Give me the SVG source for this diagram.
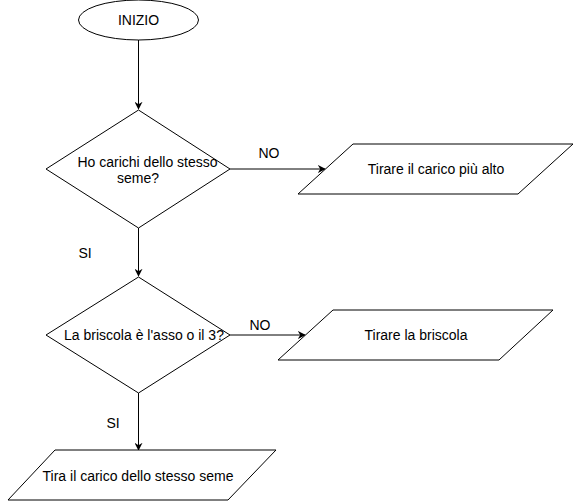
<svg xmlns="http://www.w3.org/2000/svg" width="574" height="501" viewBox="0 0 574 501">
<defs>
<marker id="arr" viewBox="0 0 10 10" refX="9" refY="5" markerWidth="8" markerHeight="8" markerUnits="userSpaceOnUse" orient="auto">
<path d="M0,0 L10,5 L0,10 L3,5 Z" fill="#000"/>
</marker>
<style>
.shape{fill:#fff;stroke:#000;stroke-width:1}
.t{font-family:"Liberation Sans",Arial,sans-serif;font-size:14px;fill:#000;text-anchor:middle;dominant-baseline:central}
.c{fill:none;stroke:#000;stroke-width:1;marker-end:url(#arr)}
</style>
</defs>
<rect width="574" height="501" fill="#fff"/>
<g id="connectors">
<path class="c" d="M138.5,40 V109"/>
<path class="c" d="M230,169 H325"/>
<path class="c" d="M138.5,228 V276"/>
<path class="c" d="M230,335 H305"/>
<path class="c" d="M138.5,393 V450"/>
<text class="t" x="269" y="153">NO</text>
<text class="t" x="85" y="253">SI</text>
<text class="t" x="260" y="325">NO</text>
<text class="t" x="113" y="423">SI</text>
</g>
<g id="inizio">
<ellipse class="shape" cx="138.5" cy="20" rx="60" ry="20"/>
<text class="t" x="138.5" y="20">INIZIO</text>
</g>
<g id="dec1">
<polygon class="shape" points="138.5,110 230,169 138.5,228 46,169"/>
<text class="t" x="147.5" y="162">Ho carichi dello stesso</text>
<text class="t" x="138" y="178">seme?</text>
</g>
<g id="out1">
<polygon class="shape" points="353,144 573,144 518,194 298,194"/>
<text class="t" x="436" y="169">Tirare il carico più alto</text>
</g>
<g id="dec2">
<polygon class="shape" points="138.5,277 230,335 138.5,393 46,335"/>
<text class="t" x="144" y="335">La briscola è l'asso o il 3?</text>
</g>
<g id="out2">
<polygon class="shape" points="333,310 553,310 499,360 278,360"/>
<text class="t" x="416" y="335">Tirare la briscola</text>
</g>
<g id="out3">
<polygon class="shape" points="55,450 276,450 228,500 8,500"/>
<text class="t" x="138" y="476">Tira il carico dello stesso seme</text>
</g>
</svg>
